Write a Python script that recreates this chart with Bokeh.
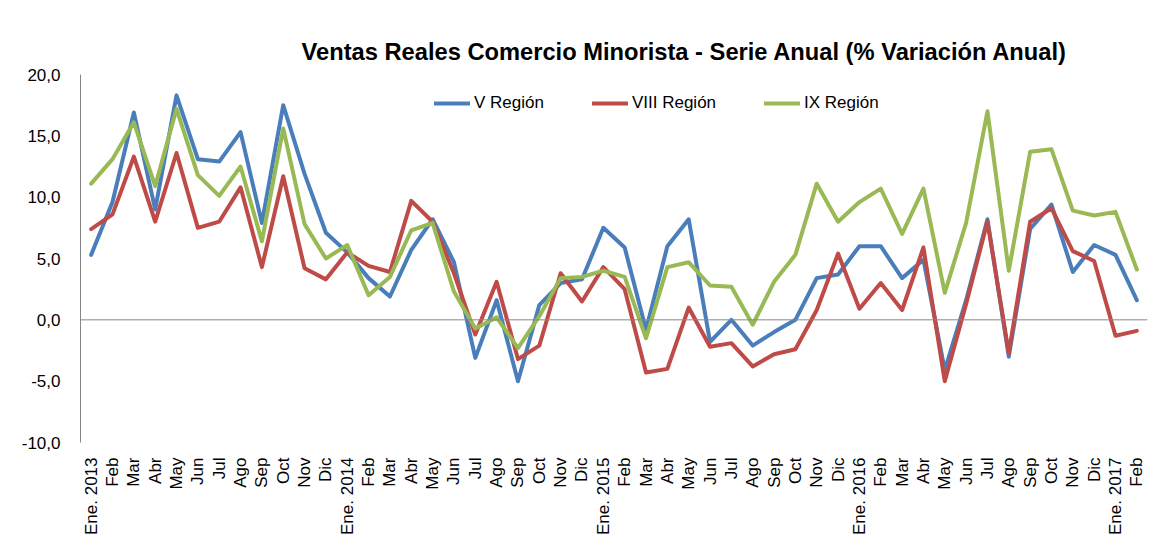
import math
from bokeh.plotting import figure
from bokeh.models import ColumnDataSource, FixedTicker, Span, Legend, LegendItem, Range1d, Title, BoxAnnotation
from bokeh.embed import file_html
from bokeh.resources import INLINE

month_labels = ["Ene. 2013", "Feb", "Mar", "Abr", "May", "Jun", "Jul", "Ago", "Sep", "Oct", "Nov", "Dic",
                "Ene. 2014", "Feb", "Mar", "Abr", "May", "Jun", "Jul", "Ago", "Sep", "Oct", "Nov", "Dic",
                "Ene. 2015", "Feb", "Mar", "Abr", "May", "Jun", "Jul", "Ago", "Sep", "Oct", "Nov", "Dic",
                "Ene. 2016", "Feb", "Mar", "Abr", "May", "Jun", "Jul", "Ago", "Sep", "Oct", "Nov", "Dic",
                "Ene. 2017", "Feb"]

v_region = [5.3, 9.6, 16.9, 9.0, 18.3, 13.1, 12.9, 15.3, 7.9, 17.5, 11.9, 7.1,
            5.5, 3.4, 1.9, 5.7, 8.2, 4.7, -3.1, 1.6, -5.0, 1.2, 3.0, 3.3,
            7.5, 5.9, -0.8, 6.0, 8.2, -1.8, 0.0, -2.1, -1.0, 0.0, 3.4, 3.7,
            6.0, 6.0, 3.4, 4.9, -4.1, 1.6, 8.2, -3.0, 7.4, 9.4, 3.9, 6.1,
            5.3, 1.6]

viii_region = [7.4, 8.6, 13.3, 8.0, 13.6, 7.5, 8.0, 10.8, 4.3, 11.7, 4.2, 3.3,
               5.5, 4.4, 3.9, 9.7, 8.0, 3.8, -1.2, 3.1, -3.2, -2.1, 3.8, 1.5,
               4.3, 2.5, -4.3, -4.0, 1.0, -2.2, -1.9, -3.8, -2.8, -2.4, 0.8, 5.4,
               0.9, 3.0, 0.8, 5.9, -5.0, 1.3, 8.0, -2.7, 8.0, 9.1, 5.6, 4.8,
               -1.3, -0.9]

ix_region = [11.1, 13.1, 16.1, 10.9, 17.2, 11.8, 10.1, 12.5, 6.4, 15.6, 7.8, 5.0,
             6.1, 2.0, 3.5, 7.3, 7.9, 2.3, -0.7, 0.2, -2.3, 0.3, 3.4, 3.5,
             4.0, 3.5, -1.5, 4.3, 4.7, 2.8, 2.7, -0.4, 3.1, 5.3, 11.1, 8.0,
             9.6, 10.7, 7.0, 10.7, 2.2, 7.9, 17.0, 4.0, 13.7, 13.9, 8.9, 8.5,
             8.8, 4.1]

series_names = ["V Región", "VIII Región", "IX Región"]
series_colors = ["#4A7EBB", "#BE4B48", "#98B954"]
y_ticks = [-10, -5, 0, 5, 10, 15, 20]
y_tick_labels = ["-10,0", "-5,0", "0,0", "5,0", "10,0", "15,0", "20,0"]

FONT = "Liberation Sans"

idx = list(range(len(month_labels)))
source = ColumnDataSource(dict(x=idx, v=v_region, viii=viii_region, ix=ix_region))

p = figure(width=1161, height=546, output_backend="svg", toolbar_location=None,
           x_range=Range1d(-0.5, len(month_labels) - 0.5), y_range=Range1d(-10, 20),
           min_border_left=80, min_border_right=14, min_border_top=74, min_border_bottom=104)
p.title = None

t = Title(text="Ventas Reales Comercio Minorista - Serie Anual (% Variación Anual)",
          text_font=FONT, text_font_size="23.7px", text_font_style="bold", text_color="#000000",
          align="left", offset=221, standoff=19)
p.add_layout(t, "above")

p.xgrid.visible = False
p.ygrid.visible = False
p.outline_line_color = None
p.background_fill_color = "white"
p.border_fill_color = "white"

# chart-area border (left and top edges visible in the reference)
frame_box = BoxAnnotation(left=6, right=3000, top=13, bottom=3000,
                          left_units="canvas", right_units="canvas",
                          top_units="canvas", bottom_units="canvas",
                          fill_alpha=0, line_color="#8c8c8c", line_width=1.5,
                          editable=False, level="underlay")
p.add_layout(frame_box)

# x axis
p.xaxis.ticker = FixedTicker(ticks=idx)
p.xaxis.major_label_overrides = {i: lab for i, lab in enumerate(month_labels)}
p.xaxis.major_label_orientation = math.pi / 2
p.xaxis.axis_line_color = None
p.xaxis.major_tick_line_color = None
p.xaxis.minor_tick_line_color = None
p.xaxis.major_label_text_font = FONT
p.xaxis.major_label_text_font_size = "17px"
p.xaxis.major_label_text_color = "#000000"
p.xaxis.major_label_standoff = 9

# y axis
p.yaxis.ticker = FixedTicker(ticks=y_ticks)
p.yaxis.major_label_overrides = {v: s for v, s in zip(y_ticks, y_tick_labels)}
p.yaxis.axis_line_color = "#868686"
p.yaxis.major_tick_line_color = None
p.yaxis.minor_tick_line_color = None
p.yaxis.major_label_text_font = FONT
p.yaxis.major_label_text_font_size = "17px"
p.yaxis.major_label_text_color = "#000000"
p.yaxis.major_label_standoff = 14

zero = Span(location=0, dimension="width", line_color="#868686", line_width=1)
p.add_layout(zero)

renderers = []
for key, color in zip(["v", "viii", "ix"], series_colors):
    r = p.line("x", key, source=source, line_color=color, line_width=4, line_join="round", line_cap="round")
    renderers.append(r)

legend = Legend(items=[LegendItem(label=n, renderers=[r]) for n, r in zip(series_names, renderers)],
                orientation="horizontal", location=(354, 329),
                label_text_font=FONT, label_text_font_size="17px", label_text_color="#000000",
                glyph_width=36, glyph_height=20, label_standoff=4, spacing=48,
                padding=0, margin=0, border_line_color=None, background_fill_alpha=0)
p.add_layout(legend, "center")

open("out.html", "w").write(file_html(p, INLINE))
